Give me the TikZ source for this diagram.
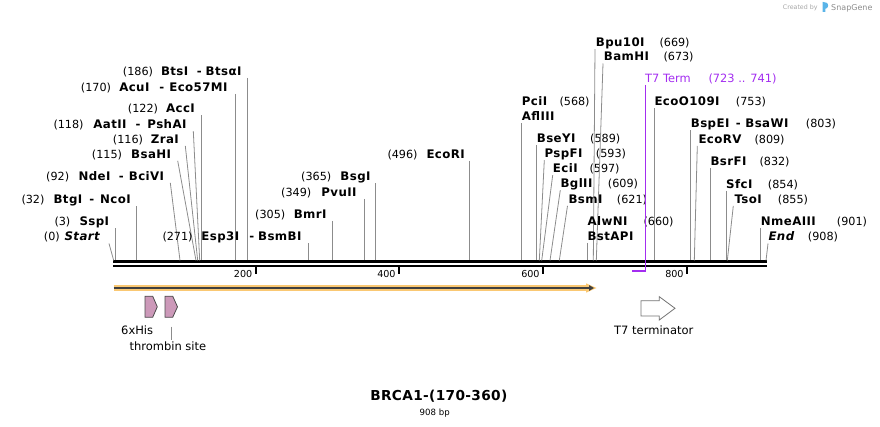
\documentclass[tikz,border=0pt]{standalone}
\usepackage{fontspec}
\setmainfont{DejaVu Sans}
\newfontfamily\enzfont{DejaVu Sans}[LetterSpace=3.5]
\newfontfamily\titlefont{DejaVu Sans}[LetterSpace=2.5]
\usetikzlibrary{arrows.meta}
\definecolor{leadgray}{gray}{0.55}
\definecolor{t7purple}{RGB}{163,45,240}
\definecolor{orfhalo}{RGB}{250,200,115}
\definecolor{featpink}{RGB}{204,153,185}
\definecolor{featline}{gray}{0.3}
\definecolor{termline}{gray}{0.45}
\definecolor{sgblue}{RGB}{90,180,232}
\tikzset{
  numtxt/.style={font=\fontsize{11.2}{13}\selectfont, inner sep=0pt},
  enztxt/.style={font=\enzfont\fontsize{11.8}{13}\selectfont\bfseries, inner sep=0pt},
  t7txt/.style={font=\fontsize{11.4}{13}\selectfont, inner sep=0pt, text=t7purple},
  ticktxt/.style={font=\fontsize{9.6}{11}\selectfont, inner sep=0pt},
  feattxt/.style={font=\fontsize{11.5}{13}\selectfont, inner sep=0pt},
  leader/.style={draw=leadgray, line width=0.8pt},
  featarrow/.style={draw=featline, line width=0.8pt, fill=featpink, line join=miter},
  termarrow/.style={draw=termline, line width=0.8pt, fill=white},
}
\newcommand\enzsep[2]{\hspace{#1pt}-\hspace{#2pt}}
% left-type site: id, number x, number, name end x, name, y, leader top x, leader bottom x
\newcommand\lsite[8]{%
  \node[numtxt, anchor=base west] (#1n) at (#2,#6+4.2) {#3};
  \node[enztxt, anchor=base east] (#1e) at (#4,#6+4.2) {#5};
  \coordinate (#1t) at (#7,#6+6.8);
  \coordinate (#1b) at (#8,260.5);
  \draw[leader] (#1t) -- (#1b);}
% right-type site: id, name x, name, number x, number, y, leader top x, leader bottom x
\newcommand\rsite[8]{%
  \node[enztxt, anchor=base west] (#1e) at (#2,#6+4.2) {#3};
  \node[numtxt, anchor=base west] (#1n) at (#4,#6+4.2) {#5};
  \coordinate (#1t) at (#7,#6+6.8);
  \coordinate (#1b) at (#8,260.5);
  \draw[leader] (#1t) -- (#1b);}
\begin{document}
\begin{tikzpicture}[x=1pt,y=-1pt]
\useasboundingbox (0,0) rectangle (880,427);

% watermark
\node[font=\fontsize{6.3}{7}\selectfont, text=black!35, inner sep=0pt, anchor=base west] (cby) at (782.7,9.5) {Created by};
\fill[sgblue] (822.7,1.8) -- (826.5,2.8) .. controls (828.6,3.4) and (828.6,7.6) .. (826.5,8.3) -- (825.4,8.6) -- (825.4,12) -- (822.7,12) -- cycle;
\node[font=\fontsize{8}{9}\selectfont, text=black!45, inner sep=0pt, anchor=base west] (sgn) at (831,10.3) {SnapGene};

% backbone
\coordinate (bbL) at (113,261.8); \coordinate (bbR) at (767,261.8);
\coordinate (bbL2) at (113,266.2); \coordinate (bbR2) at (767,266.2);
\draw[line width=3pt] (bbL) -- (bbR);
\draw[line width=2.6pt] (bbL2) -- (bbR2);

% ticks
\foreach \tx/\tl in {256/200, 399.3/400, 543.3/600, 687.3/800}{
  \draw[line width=2pt] (\tx,267.5) -- (\tx,273.8);
  \node[ticktxt, anchor=base east] (tick\tl) at (\tx-3.5,277.8) {\tl};
}

% left-side sites
\lsite{start}{43.7}{(0)}{100}{\itshape Start}{236.7}{109}{113.7}
\lsite{ssp}{54.3}{(3)}{109.3}{SspI}{221.7}{115.3}{115.3}
\lsite{btg}{21.3}{(32)}{131}{BtgI\enzsep{7}{6}NcoI}{199.3}{136.7}{136.7}
\lsite{nde}{46}{(92)}{164.3}{NdeI\enzsep{8.5}{5}BciVI}{176}{170.3}{180}
\lsite{bsah}{91.7}{(115)}{171.3}{BsaHI}{154}{177.7}{196}
\lsite{zra}{112.7}{(116)}{179}{ZraI}{139}{185.3}{197.7}
\lsite{aat}{53.3}{(118)}{186.7}{AatII\enzsep{9}{7}PshAI}{124.3}{193.3}{199.7}
\lsite{acc}{127.7}{(122)}{195}{AccI}{108.3}{201.3}{201.3}
\lsite{acu}{80.7}{(170)}{227.7}{AcuI\enzsep{10}{5}Eco57MI}{87}{235.7}{235.7}
\lsite{bts}{122.7}{(186)}{241.7}{BtsI\enzsep{8.5}{4}BtsαI}{71}{247.3}{247.3}
\lsite{esp}{162.3}{(271)}{301.7}{Esp3I\enzsep{10}{4}BsmBI}{236.7}{308.3}{308.3}
\lsite{bmr}{255}{(305)}{326.7}{BmrI}{214}{332.3}{332.3}
\lsite{pvu}{281}{(349)}{356.7}{PvuII}{192}{364.3}{364.3}
\lsite{bsg}{301}{(365)}{370.7}{BsgI}{176.5}{375.3}{375.3}
\lsite{ecori}{387.3}{(496)}{465}{EcoRI}{154}{469.3}{469.3}

% right-side sites
\node[enztxt, anchor=base west] (pcie) at (521.7,105.9) {PciI};
\node[numtxt, anchor=base west] (pcin) at (559.3,105.9) {(568)};
\node[enztxt, anchor=base west] (afle) at (521.7,120.9) {AflIII};
\coordinate (pcit) at (521.3,123.5); \coordinate (pcib) at (521.3,260.5);
\draw[leader] (pcit) -- (pcib);

\rsite{bse}{536.7}{BseYI}{590}{(589)}{138.7}{536.7}{536.7}
\rsite{psp}{544.3}{PspFI}{595.7}{(593)}{153.3}{544.3}{539.3}
\rsite{eci}{552.7}{EciI}{589.3}{(597)}{168.3}{552.7}{541.7}
\rsite{bgl}{560.3}{BglII}{607.7}{(609)}{183.3}{560.3}{550}
\rsite{bsm}{568.3}{BsmI}{616.7}{(621)}{199}{567.5}{559.3}
\rsite{bpu}{595.7}{Bpu10I}{659.3}{(669)}{42.3}{595}{593.3}
\rsite{bam}{603.7}{BamHI}{663.3}{(673)}{56.7}{603}{596.3}

\node[enztxt, anchor=base west] (alwe) at (587.3,225.9) {AlwNI};
\node[numtxt, anchor=base west] (alwn) at (643.3,225.9) {(660)};
\node[enztxt, anchor=base west] (bstape) at (587.3,240.9) {BstAPI};
\coordinate (alwt) at (587.3,243); \coordinate (alwb) at (587.3,260.5);
\draw[leader] (alwt) -- (alwb);

\rsite{ecoo}{654.3}{EcoO109I}{735.7}{(753)}{101.7}{654.3}{654.3}
\rsite{bspe}{690.7}{BspEI\enzsep{6.5}{4.5}BsaWI}{805.7}{(803)}{123.3}{690.3}{690.3}
\rsite{ecorv}{698.3}{EcoRV}{754.3}{(809)}{139}{697.3}{694.3}
\rsite{bsrf}{710.3}{BsrFI}{759.3}{(832)}{161.7}{710.3}{710.3}
\rsite{sfc}{726}{SfcI}{767.7}{(854)}{184}{726.7}{726.7}
\rsite{tso}{734.3}{TsoI}{777.7}{(855)}{199}{733.3}{727.3}
\rsite{nme}{760.7}{NmeAIII}{836.7}{(901)}{221.7}{760.3}{760.3}
\rsite{endm}{768.3}{\itshape End}{807.7}{(908)}{236.7}{768}{766}

% T7 Term feature (purple)
\node[t7txt, anchor=base west] (t7e) at (645,82.7) {T7 Term};
\node[t7txt, anchor=base west] (t7n) at (708.3,82.7) {(723 .. 741)};
\coordinate (t7top) at (645.6,85);
\coordinate (t7corner) at (645.6,271);
\coordinate (t7left) at (632.3,271);
\draw[t7purple, line width=1.2pt] (t7top) -- (t7corner);
\draw[t7purple, line width=2.2pt] (t7left) -- (646.2,271);

% ORF arrow with highlight
\coordinate (orfS) at (113.5,288);
\coordinate (orfE) at (594,288);
\draw[orfhalo, line width=5.6pt] (orfS) -- (589,288);
\fill[orfhalo] (586,283.3) -- (596.5,288) -- (586,292.7) -- cycle;
\draw[black!75, line width=1.6pt, -{Triangle[length=5pt,width=5.5pt]}] (orfS) -- (orfE);

% small features
\draw[featarrow] (145,296.2) -- (152.7,296.2) -- (157.3,306.8) -- (152.7,317.3) -- (145,317.3) -- cycle;
\draw[featarrow] (165,296.2) -- (172.7,296.2) -- (177.5,306.8) -- (172.7,317.3) -- (165,317.3) -- cycle;
\node[feattxt, anchor=base west] (hisl) at (121,334.2) {6xHis};
\node[feattxt, anchor=base west] (thrl) at (129.3,350.2) {thrombin site};
\coordinate (thrt) at (171.3,326.5); \coordinate (thrb) at (171.3,339.5);
\draw[leader] (thrt) -- (thrb);

% T7 terminator
\draw[termarrow] (641,300.7) -- (659.3,300.7) -- (659.3,296.7) -- (675,308.3) -- (659.3,320) -- (659.3,316) -- (641,316) -- cycle;
\node[feattxt, anchor=base west] (t7tl) at (614,334.2) {T7 terminator};

% title
\node[font=\titlefont\fontsize{13.7}{16}\selectfont\bfseries, inner sep=0pt, anchor=base] (title) at (438.8,400.5) {BRCA1-(170-360)};
\node[font=\fontsize{8.6}{10}\selectfont, inner sep=0pt, anchor=base] (size) at (434.7,415.7) {908 bp};
\end{tikzpicture}
\end{document}
